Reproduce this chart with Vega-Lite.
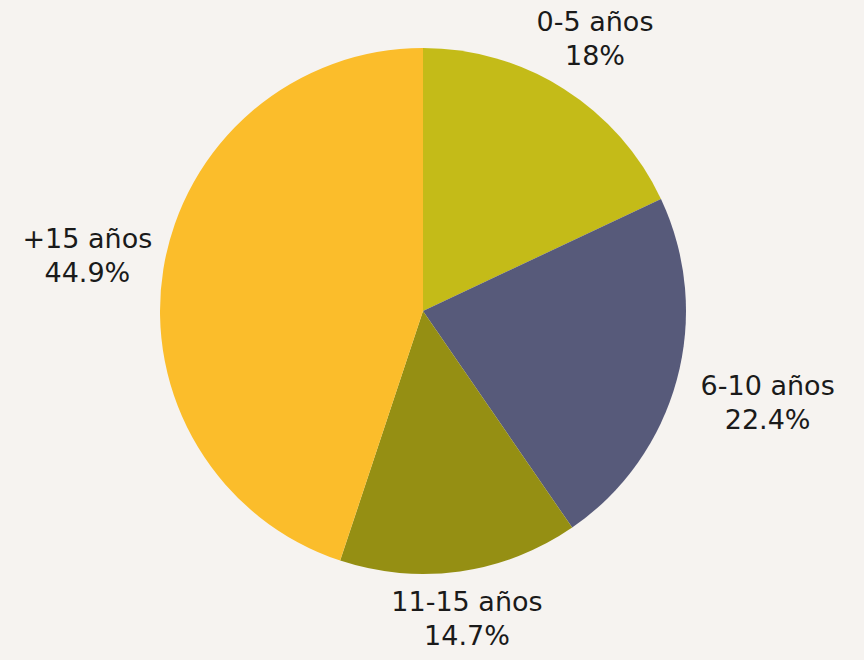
{
  "$schema": "https://vega.github.io/schema/vega-lite/v6.json",
  "width": 846,
  "height": 622,
  "autosize": {"type": "none"},
  "padding": {"left": 0, "top": 0, "right": 18, "bottom": 38},
  "background": "#f6f3f0",
  "view": {"stroke": null},
  "data": {
    "values": [
      {"grupo": "0-5 años", "pct": 18.0, "etiqueta": "0-5 años\n18%", "orden": 1},
      {"grupo": "6-10 años", "pct": 22.4, "etiqueta": "6-10 años\n22.4%", "orden": 2},
      {"grupo": "11-15 años", "pct": 14.7, "etiqueta": "11-15 años\n14.7%", "orden": 3},
      {"grupo": "+15 años", "pct": 44.9, "etiqueta": "+15 años\n44.9%", "orden": 4}
    ]
  },
  "encoding": {
    "theta": {"field": "pct", "type": "quantitative", "stack": true},
    "order": {"field": "orden", "type": "quantitative"}
  },
  "layer": [
    {
      "mark": {"type": "arc", "outerRadius": 263, "stroke": null},
      "encoding": {
        "color": {
          "field": "grupo",
          "type": "nominal",
          "scale": {
            "domain": ["0-5 años", "6-10 años", "11-15 años", "+15 años"],
            "range": ["#c4bb18", "#575a7a", "#958f13", "#fbbd2b"]
          },
          "legend": null
        }
      }
    },
    {
      "mark": {"type": "text", "radius": 321, "font": "DejaVu Sans", "fontSize": 27, "lineHeight": 34, "lineBreak": "\n", "align": "center", "baseline": "middle", "dy": -17, "color": "#1a1a1a"},
      "encoding": {
        "text": {"condition": {"test": "datum.orden === 1", "field": "etiqueta"}, "value": ""}
      }
    },
    {
      "mark": {"type": "text", "radius": 357, "font": "DejaVu Sans", "fontSize": 27, "lineHeight": 34, "lineBreak": "\n", "align": "center", "baseline": "middle", "dy": -17, "color": "#1a1a1a"},
      "encoding": {
        "text": {"condition": {"test": "datum.orden === 2", "field": "etiqueta"}, "value": ""}
      }
    },
    {
      "mark": {"type": "text", "radius": 312, "font": "DejaVu Sans", "fontSize": 27, "lineHeight": 34, "lineBreak": "\n", "align": "center", "baseline": "middle", "dy": -17, "color": "#1a1a1a"},
      "encoding": {
        "text": {"condition": {"test": "datum.orden === 3", "field": "etiqueta"}, "value": ""}
      }
    },
    {
      "mark": {"type": "text", "radius": 340, "font": "DejaVu Sans", "fontSize": 27, "lineHeight": 34, "lineBreak": "\n", "align": "center", "baseline": "middle", "dy": -17, "color": "#1a1a1a"},
      "encoding": {
        "text": {"condition": {"test": "datum.orden === 4", "field": "etiqueta"}, "value": ""}
      }
    }
  ]
}
